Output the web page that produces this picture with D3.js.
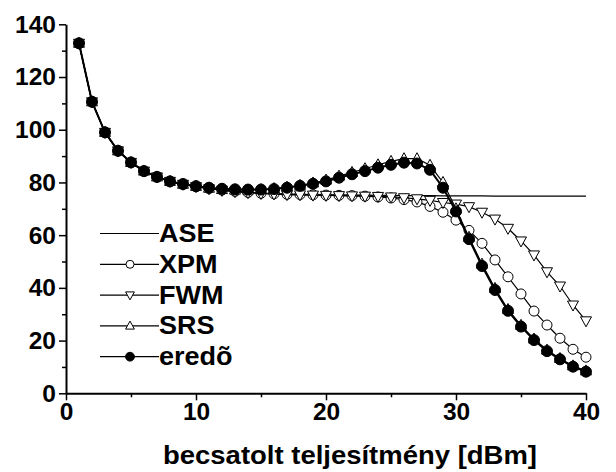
<!DOCTYPE html>
<html>
<head>
<meta charset="utf-8">
<script src="https://cdn.jsdelivr.net/npm/d3@7"></script>
<style>
  body { margin: 0; background: #fff; }
  svg { display: block; font-family: "Liberation Sans", Arial, sans-serif; font-weight: bold; }
</style>
</head>
<body>
<svg></svg>
<script>
var width = 616;
var height = 472;

// launched power [dBm]
var power = d3.range(1, 41);

var ase = [132.8, 110.6, 99.0, 92.0, 87.6, 84.3, 82.1, 80.4, 79.3, 78.4,
           77.7, 77.1, 76.7, 76.3, 76.0, 75.8, 75.6, 75.5, 75.4, 75.3,
           75.3, 75.2, 75.2, 75.1, 75.1, 75.0, 75.0, 75.0, 74.9, 74.9,
           74.9, 74.9, 74.8, 74.8, 74.8, 74.8, 74.8, 74.8, 74.8, 74.8];
var xpm = [132.8, 110.6, 99.0, 92.0, 87.6, 84.3, 82.1, 80.4, 79.3, 78.4,
           77.7, 77.1, 76.6, 76.2, 75.9, 75.7, 75.5, 75.4, 75.3, 75.2,
           75.1, 75.0, 74.8, 74.5, 74.1, 73.5, 72.6, 70.9, 68.7, 65.7,
           61.8, 56.9, 50.6, 44.2, 37.7, 31.2, 25.9, 20.9, 16.7, 13.7];
var fwm = [132.8, 110.6, 99.0, 92.0, 87.6, 84.3, 82.1, 80.4, 79.3, 78.4,
           77.6, 77.0, 76.5, 76.1, 75.8, 75.6, 75.4, 75.3, 75.2, 75.1,
           75.0, 74.9, 74.8, 74.7, 74.5, 74.2, 73.8, 73.2, 72.4, 71.8,
           70.8, 68.7, 66.1, 62.6, 57.8, 52.5, 46.1, 40.7, 33.5, 27.5];
var srs = [132.8, 110.6, 99.0, 92.0, 87.6, 84.3, 82.1, 80.4, 79.3, 78.5,
           77.8, 77.3, 77.1, 77.1, 77.3, 77.7, 78.2, 78.9, 79.8, 80.9,
           82.4, 83.8, 85.2, 86.7, 88.0, 89.0, 89.0, 86.5, 80.0, 70.0,
           59.2, 49.0, 39.8, 31.8, 25.8, 20.6, 16.4, 13.2, 10.4, 8.5];
var total = [132.8, 110.6, 99.0, 92.0, 87.6, 84.3, 82.1, 80.4, 79.4, 78.6,
             78.0, 77.6, 77.4, 77.3, 77.3, 77.5, 78.0, 78.7, 79.5, 80.4,
             81.8, 83.1, 84.3, 85.6, 86.7, 87.5, 87.2, 84.8, 78.0, 69.0,
             58.5, 48.3, 39.2, 31.3, 25.3, 20.2, 16.0, 12.9, 10.1, 8.2];

var legendNames = ["ASE", "XPM", "FWM", "SRS", "eredõ"];
var xTicks = [0, 10, 20, 30, 40];
var yTicks = [0, 20, 40, 60, 80, 100, 120, 140];

var series = [
  { name: "ASE", values: ase, marker: null, lw: 1.2 },
  { name: "XPM", values: xpm, marker: "circle", lw: 1.2 },
  { name: "FWM", values: fwm, marker: "down", lw: 1.2 },
  { name: "SRS", values: srs, marker: "up", lw: 1.2 },
  { name: "eredõ", values: total, marker: "dot", lw: 2 }
];

var x = d3.scaleLinear().domain([0, 40]).range([66, 586]);
var y = d3.scaleLinear().domain([0, 140]).range([393.3, 24.3]);

var svg = d3.select("svg")
    .attr("width", width)
    .attr("height", height);

// axes
svg.append("g")
    .attr("transform", `translate(0, ${y(0)})`)
    .call(d3.axisBottom(x).tickValues(xTicks).tickSize(7).tickSizeOuter(0).tickPadding(2));
svg.append("g")
    .attr("transform", `translate(0, ${y(0)})`)
    .call(d3.axisBottom(x).tickValues([5, 15, 25, 35]).tickSize(4).tickFormat(""))
    .select(".domain").remove();

svg.append("g")
    .attr("transform", `translate(${x(0)}, 0)`)
    .call(d3.axisLeft(y).tickValues(yTicks).tickSize(7).tickSizeOuter(0).tickPadding(3));
svg.append("g")
    .attr("transform", `translate(${x(0)}, 0)`)
    .call(d3.axisLeft(y).tickValues([10, 30, 50, 70, 90, 110, 130]).tickSize(4).tickFormat(""))
    .select(".domain").remove();

svg.selectAll(".domain").attr("stroke", "#000").attr("stroke-width", 2);
svg.selectAll(".tick line").attr("stroke", "#000").attr("stroke-width", 1.5);
svg.selectAll(".tick text")
    .attr("fill", "#000")
    .style("font-family", "'Liberation Sans', Arial, sans-serif")
    .style("font-weight", "bold")
    .style("font-size", "24.5px");

svg.append("text")
    .attr("x", 163)
    .attr("y", 464)
    .attr("textLength", 374)
    .attr("lengthAdjust", "spacingAndGlyphs")
    .style("font-size", "26px")
    .text("becsatolt teljesítmény [dBm]");

// marker drawing, k scales the marker size
function drawMarker(sel, type, k) {
  if (type === "circle") {
    sel.append("circle").attr("r", 5 * k).attr("fill", "#fff").attr("stroke", "#000").attr("stroke-width", 1);
  } else if (type === "dot") {
    sel.append("circle").attr("r", 5.5 * k).attr("fill", "#000").attr("stroke", "#000").attr("stroke-width", 1);
  } else if (type === "up") {
    sel.append("path").attr("d", `M0,${-6 * k}L${5.5 * k},${4 * k}L${-5.5 * k},${4 * k}Z`)
      .attr("fill", "#fff").attr("stroke", "#000").attr("stroke-width", 1);
  } else if (type === "down") {
    sel.append("path").attr("d", `M0,${6 * k}L${5.5 * k},${-4 * k}L${-5.5 * k},${-4 * k}Z`)
      .attr("fill", "#fff").attr("stroke", "#000").attr("stroke-width", 1);
  }
}

var line = d3.line()
    .x((d, i) => x(power[i]))
    .y(d => y(d));

series.forEach(function(s) {
  var g = svg.append("g");
  g.append("path")
      .attr("d", line(s.values))
      .attr("fill", "none")
      .attr("stroke", "#000")
      .attr("stroke-width", s.lw);
  if (s.marker) {
    g.selectAll(".m")
      .data(s.values)
      .enter()
      .append("g")
        .attr("transform", (d, i) => `translate(${x(power[i])}, ${y(d)})`)
        .each(function() { drawMarker(d3.select(this), s.marker, 1); });
  }
});

// legend
var legend = svg.append("g");
series.forEach(function(s, i) {
  var ly = 233.5 + i * 30.8;
  var row = legend.append("g").attr("transform", `translate(0, ${ly})`);
  row.append("line")
      .attr("x1", 100).attr("x2", 159)
      .attr("stroke", "#000").attr("stroke-width", 1.2);
  if (s.marker) {
    drawMarker(row.append("g").attr("transform", "translate(130, 0)"), s.marker, 0.8);
  }
  var t = row.append("text")
      .attr("x", 159)
      .attr("y", 8.5)
      .style("font-size", "25.5px")
      .text(legendNames[i]);
  t.attr("textLength", t.node().getComputedTextLength() * 1.06)
   .attr("lengthAdjust", "spacingAndGlyphs");
});
</script>
</body>
</html>
